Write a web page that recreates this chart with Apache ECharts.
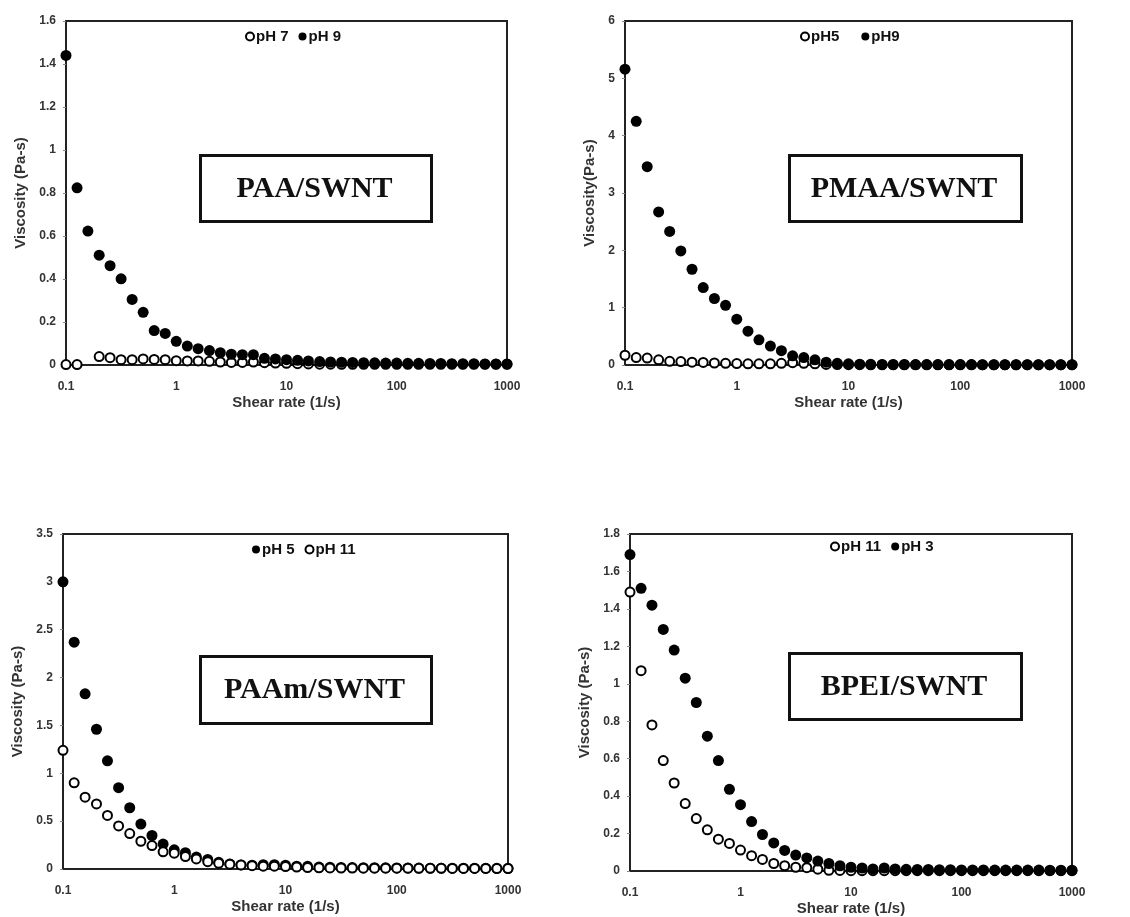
<!DOCTYPE html>
<html>
<head>
<meta charset="utf-8">
<script src="https://cdn.jsdelivr.net/npm/echarts@6/dist/echarts.min.js"></script>
<style>
html,body{margin:0;padding:0;background:#fff;}
#main{width:1130px;height:917px;}
</style>
</head>
<body>
<div id="main"></div>
<script>
// Shear rate (1/s), 10 points per decade
var shearRate = [0.1, 0.126, 0.158, 0.2, 0.251, 0.316, 0.398, 0.501, 0.631, 0.794,
  1, 1.26, 1.58, 2, 2.51, 3.16, 3.98, 5.01, 6.31, 7.94,
  10, 12.6, 15.8, 20, 25.1, 31.6, 39.8, 50.1, 63.1, 79.4,
  100, 126, 158, 200, 251, 316, 398, 501, 631, 794, 1000];

var xTickLabels = ['0.1', '1', '10', '100', '1000'];

// PAA/SWNT
var paa_pH7 = [0.002, 0.002, null, 0.039, 0.034, 0.025, 0.025, 0.028, 0.026, 0.025,
  0.020, 0.019, 0.019, 0.017, 0.014, 0.012, 0.012, 0.014, 0.011, 0.009,
  0.008, 0.006, 0.005, 0.004, 0.004, 0.003, 0.003, 0.003, 0.003, 0.003,
  0.003, 0.003, 0.003, 0.003, 0.003, 0.003, 0.003, 0.003, 0.003, 0.003, 0.003];
var paa_pH9 = [1.44, 0.824, 0.623, 0.511, 0.462, 0.401, 0.305, 0.245, 0.160, 0.147,
  0.110, 0.088, 0.076, 0.067, 0.057, 0.050, 0.048, 0.048, 0.031, 0.028,
  0.025, 0.022, 0.019, 0.016, 0.014, 0.013, 0.012, 0.011, 0.010, 0.009,
  0.009, 0.008, 0.008, 0.007, 0.007, 0.006, 0.006, 0.006, 0.005, 0.005, 0.005];

// PMAA/SWNT
var pmaa_pH5 = [0.17, 0.13, 0.12, 0.09, 0.065, 0.06, 0.05, 0.045, 0.035, 0.03,
  0.025, 0.02, 0.02, 0.02, 0.03, 0.04, 0.03, 0.02, 0.01, 0.008,
  0.006, 0.005, 0.004, 0.004, 0.004, 0.004, 0.004, 0.004, 0.004, 0.004,
  0.004, 0.004, 0.004, 0.004, 0.004, 0.004, 0.004, 0.004, 0.004, 0.004, 0.004];
var pmaa_pH9 = [5.16, 4.25, 3.46, 2.67, 2.33, 1.99, 1.67, 1.35, 1.16, 1.04,
  0.80, 0.59, 0.44, 0.33, 0.25, 0.16, 0.13, 0.09, 0.05, 0.03,
  0.02, 0.015, 0.012, 0.01, 0.01, 0.01, 0.008, 0.008, 0.008, 0.007,
  0.007, 0.007, 0.006, 0.006, 0.006, 0.005, 0.005, 0.005, 0.005, 0.005, 0.005];

// PAAm/SWNT
var paam_pH5 = [3.00, 2.37, 1.83, 1.46, 1.13, 0.85, 0.64, 0.47, 0.35, 0.26,
  0.20, 0.17, 0.125, 0.10, 0.07, 0.052, 0.042, 0.04, 0.045, 0.045,
  0.04, 0.03, 0.028, 0.02, 0.018, 0.016, 0.015, 0.014, 0.013, 0.012,
  0.011, 0.010, 0.010, 0.009, 0.009, 0.008, 0.008, 0.008, 0.007, 0.007, 0.007];
var paam_pH11 = [1.24, 0.90, 0.75, 0.68, 0.56, 0.45, 0.37, 0.29, 0.245, 0.18,
  0.165, 0.13, 0.105, 0.077, 0.06, 0.05, 0.042, 0.035, 0.03, 0.03,
  0.025, 0.02, 0.015, 0.012, 0.011, 0.01, 0.01, 0.009, 0.009, 0.008,
  0.008, 0.008, 0.007, 0.007, 0.007, 0.006, 0.006, 0.006, 0.006, 0.005, 0.005];

// BPEI/SWNT
var bpei_pH11 = [1.49, 1.07, 0.78, 0.59, 0.47, 0.36, 0.28, 0.22, 0.17, 0.147,
  0.112, 0.082, 0.062, 0.04, 0.028, 0.02, 0.018, 0.01, 0.004, 0.003,
  0.002, 0.002, 0.002, 0.002, 0.002, 0.002, 0.002, 0.002, 0.002, 0.002,
  0.002, 0.002, 0.002, 0.002, 0.002, 0.002, 0.002, 0.002, 0.002, 0.002, 0.002];
var bpei_pH3 = [1.69, 1.51, 1.42, 1.29, 1.18, 1.03, 0.90, 0.72, 0.59, 0.436,
  0.354, 0.264, 0.195, 0.15, 0.11, 0.085, 0.07, 0.053, 0.04, 0.028,
  0.02, 0.016, 0.011, 0.016, 0.011, 0.009, 0.008, 0.008, 0.007, 0.007,
  0.006, 0.006, 0.006, 0.005, 0.005, 0.005, 0.005, 0.005, 0.004, 0.004, 0.004];

var panelTitles = ['PAA/SWNT', 'PMAA/SWNT', 'PAAm/SWNT', 'BPEI/SWNT'];
var yNames = ['Viscosity (Pa-s)', 'Viscosity(Pa-s)', 'Viscosity (Pa-s)', 'Viscosity (Pa-s)'];
var yMax = [1.6, 6, 3.5, 1.8];
var yInterval = [0.2, 1, 0.5, 0.2];

function pairs(ys) {
  var out = [];
  for (var i = 0; i < shearRate.length; i++) {
    if (ys[i] !== null && ys[i] !== undefined) out.push([shearRate[i], ys[i]]);
  }
  return out;
}

var FONT = '"Liberation Sans", Arial, sans-serif';
var grids = [
  {left: 66, top: 21, width: 441, height: 344},
  {left: 625, top: 21, width: 447, height: 344},
  {left: 63, top: 534, width: 445, height: 335},
  {left: 630, top: 534, width: 442, height: 339}
];
var yNameGap = [38, 28, 38, 38];

var xAxes = [], yAxes = [];
grids.forEach(function (g, i) {
  g.show = true; g.borderColor = '#222'; g.borderWidth = 2; g.containLabel = false;
  xAxes.push({
    type: 'log', logBase: 10, gridIndex: i, min: 0.1, max: 1000,
    name: 'Shear rate (1/s)', nameLocation: 'middle', nameGap: 30,
    nameTextStyle: {fontFamily: FONT, fontWeight: 'bold', fontSize: 15, color: '#333'},
    axisLine: {lineStyle: {color: '#222', width: 2}},
    axisTick: {show: false}, minorTick: {show: false},
    splitLine: {show: false},
    axisLabel: {
      margin: 16, fontFamily: FONT, fontWeight: 'bold', fontSize: 12, color: '#333',
      formatter: function (v) {
        var k = Math.round(Math.log10(v)) + 1;
        return xTickLabels[k] !== undefined ? xTickLabels[k] : '';
      }
    }
  });
  yAxes.push({
    type: 'value', gridIndex: i, min: 0, max: yMax[i], interval: yInterval[i],
    name: yNames[i], nameLocation: 'middle', nameGap: yNameGap[i],
    nameTextStyle: {fontFamily: FONT, fontWeight: 'bold', fontSize: 15, color: '#333'},
    axisLine: {show: true, lineStyle: {color: '#222', width: 2}},
    axisTick: {show: true, length: 3, lineStyle: {color: '#888'}},
    splitLine: {show: false},
    axisLabel: {margin: 10, fontFamily: FONT, fontWeight: 'bold', fontSize: 12, color: '#333',
      formatter: function (v) { return String(Math.round(v * 10) / 10); }}
  });
});

function openSeries(name, ys, idx) {
  return {
    name: name, type: 'scatter', xAxisIndex: idx, yAxisIndex: idx,
    data: pairs(ys), symbol: 'circle', symbolSize: 9,
    itemStyle: {color: '#fff', borderColor: '#000', borderWidth: 2, opacity: 1},
    emphasis: {disabled: true},
    clip: false
  };
}
function filledSeries(name, ys, idx) {
  return {
    name: name, type: 'scatter', xAxisIndex: idx, yAxisIndex: idx,
    data: pairs(ys), symbol: 'circle', symbolSize: 11,
    itemStyle: {color: '#000', borderColor: '#000', borderWidth: 0, opacity: 1},
    emphasis: {disabled: true},
    clip: false
  };
}

var series = [
  openSeries('pH 7', paa_pH7, 0), filledSeries('pH 9', paa_pH9, 0),
  openSeries('pH5', pmaa_pH5, 1), filledSeries('pH9', pmaa_pH9, 1),
  filledSeries('pH 5', paam_pH5, 2), openSeries('pH 11', paam_pH11, 2),
  openSeries('pH 11 ', bpei_pH11, 3), filledSeries('pH 3', bpei_pH3, 3)
];

function legendOf(names, left, top, gap) {
  return {
    data: names.map(function (n) { return {name: n, icon: 'circle'}; }),
    left: left, top: top, itemWidth: 8, itemHeight: 8, itemGap: gap,
    orient: 'horizontal', selectedMode: false,
    textStyle: {fontFamily: FONT, fontWeight: 'bold', fontSize: 15, color: '#111', padding: [0, 0, 0, -3]},
    padding: 0
  };
}

var legends = [
  legendOf(['pH 7', 'pH 9'], 245, 29, 10),
  legendOf(['pH5', 'pH9'], 800, 29, 22),
  legendOf(['pH 5', 'pH 11'], 252, 542, 10),
  legendOf(['pH 11 ', 'pH 3'], 830, 539, 6)
];

var boxes = [
  {x: 199, y: 154, w: 231, h: 66},
  {x: 788, y: 154, w: 232, h: 66},
  {x: 199, y: 655, w: 231, h: 67},
  {x: 788, y: 652, w: 232, h: 66}
];
var graphics = [];
boxes.forEach(function (b, i) {
  graphics.push({
    type: 'rect', left: b.x, top: b.y, z: 10,
    shape: {width: b.w, height: b.h},
    style: {fill: '#fff', stroke: '#111', lineWidth: 3}
  });
  graphics.push({
    type: 'text', z: 11,
    x: b.x + b.w / 2, y: b.y + b.h / 2 + 2,
    style: {text: panelTitles[i], fill: '#111', textAlign: 'center', textVerticalAlign: 'middle',
      font: 'bold 30px "Liberation Serif", "Times New Roman", serif'}
  });
});

var chart = echarts.init(document.getElementById('main'), null, {renderer: 'canvas'});
chart.setOption({
  backgroundColor: '#fff',
  animation: false,
  grid: grids,
  xAxis: xAxes,
  yAxis: yAxes,
  legend: legends,
  series: series,
  graphic: graphics
});
</script>
</body>
</html>
